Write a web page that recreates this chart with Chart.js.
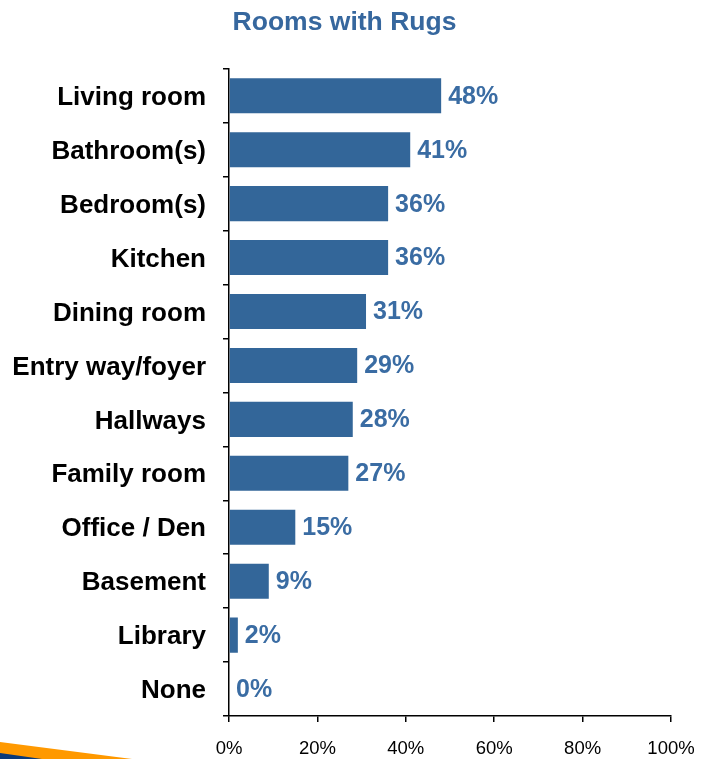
<!DOCTYPE html>
<html>
<head>
<meta charset="utf-8">
<title>Rooms with Rugs</title>
<script src="https://cdn.jsdelivr.net/npm/chart.js@4/dist/chart.umd.min.js"></script>
<style>
  html, body { margin: 0; padding: 0; background: #fff; }
  #wrap { width: 701px; height: 759px; }
</style>
</head>
<body>
<div id="wrap"><canvas id="rugChart" width="701" height="759"></canvas></div>
<script>
const ROOMS = [
    "Living room", "Bathroom(s)", "Bedroom(s)", "Kitchen", "Dining room",
    "Entry way/foyer", "Hallways", "Family room", "Office / Den",
    "Basement", "Library", "None"
];
const SHARE = [48, 41, 36, 36, 31, 29, 28, 27, 15, 9, 2, 0];
const X_TICKS = [0, 20, 40, 60, 80, 100];

const FONT = "Arial, 'Liberation Sans', sans-serif";
const BAR_BLUE = "#336699";
const LABEL_BLUE = "#3a6ca3";

// percent labels at the end of each bar
const valueLabels = {
    id: "valueLabels",
    afterDatasetsDraw(chart) {
        const ctx = chart.ctx;
        const meta = chart.getDatasetMeta(0);
        ctx.save();
        ctx.font = "bold 25px " + FONT;
        ctx.fillStyle = LABEL_BLUE;
        ctx.textAlign = "left";
        ctx.textBaseline = "middle";
        meta.data.forEach((bar, i) => {
            ctx.fillText(SHARE[i] + "%", bar.x + 7, bar.y + 1);
        });
        ctx.restore();
    }
};

// nudge the title a little right of the canvas centre
const titleShift = {
    id: "titleShift",
    afterLayout(chart) {
        if (chart.titleBlock) {
            chart.titleBlock.left += 9;
            chart.titleBlock.right += 9;
        }
    }
};

// orange / navy swoosh in the bottom-left corner
const cornerSwoosh = {
    id: "cornerSwoosh",
    beforeDraw(chart) {
        const ctx = chart.ctx;
        const h = chart.height;
        ctx.save();
        ctx.fillStyle = "#ff9900";
        ctx.beginPath();
        ctx.moveTo(0, h - 17);
        ctx.lineTo(132, h);
        ctx.lineTo(0, h);
        ctx.closePath();
        ctx.fill();
        ctx.fillStyle = "#0a3a7a";
        ctx.beginPath();
        ctx.moveTo(0, h - 6);
        ctx.lineTo(42, h);
        ctx.lineTo(0, h);
        ctx.closePath();
        ctx.fill();
        ctx.restore();
    }
};

new Chart(document.getElementById("rugChart"), {
    type: "bar",
    data: {
        labels: ROOMS,
        datasets: [{
            data: SHARE,
            backgroundColor: BAR_BLUE,
            borderWidth: 0,
            categoryPercentage: 1,
            barPercentage: 0.65
        }]
    },
    options: {
        indexAxis: "y",
        responsive: false,
        animation: false,
        layout: { padding: { left: 0, right: 30, top: 0, bottom: 0 } },
        plugins: {
            legend: { display: false },
            tooltip: { enabled: false },
            title: {
                display: true,
                text: "Rooms with Rugs",
                color: "#36679e",
                font: { family: FONT, size: 26.5, weight: "bold" },
                padding: { top: 7, bottom: 30 }
            }
        },
        scales: {
            x: {
                min: 0,
                max: 100,
                afterBuildTicks(scale) {
                    scale.ticks = X_TICKS.map(v => ({ value: v }));
                },
                afterFit(scale) {
                    scale.height = 43;
                    // let the layout padding alone set the right edge
                    scale.paddingLeft = 0;
                    scale.paddingRight = 0;
                },
                border: { color: "#000", width: 1.5 },
                grid: { drawOnChartArea: false, tickLength: 6, color: "#000", lineWidth: 1.5 },
                ticks: {
                    color: "#000",
                    padding: 16,
                    font: { family: FONT, size: 18.5 },
                    callback: v => v + "%"
                }
            },
            y: {
                afterFit(scale) { scale.width = 229; },
                border: { color: "#000", width: 1.5 },
                grid: { drawOnChartArea: false, offset: true, tickLength: 6, color: "#000", lineWidth: 1.5 },
                ticks: {
                    color: "#000",
                    padding: 17,
                    labelOffset: 2,
                    font: { family: FONT, size: 26, weight: "bold" }
                }
            }
        }
    },
    plugins: [valueLabels, titleShift, cornerSwoosh]
});
</script>
</body>
</html>
